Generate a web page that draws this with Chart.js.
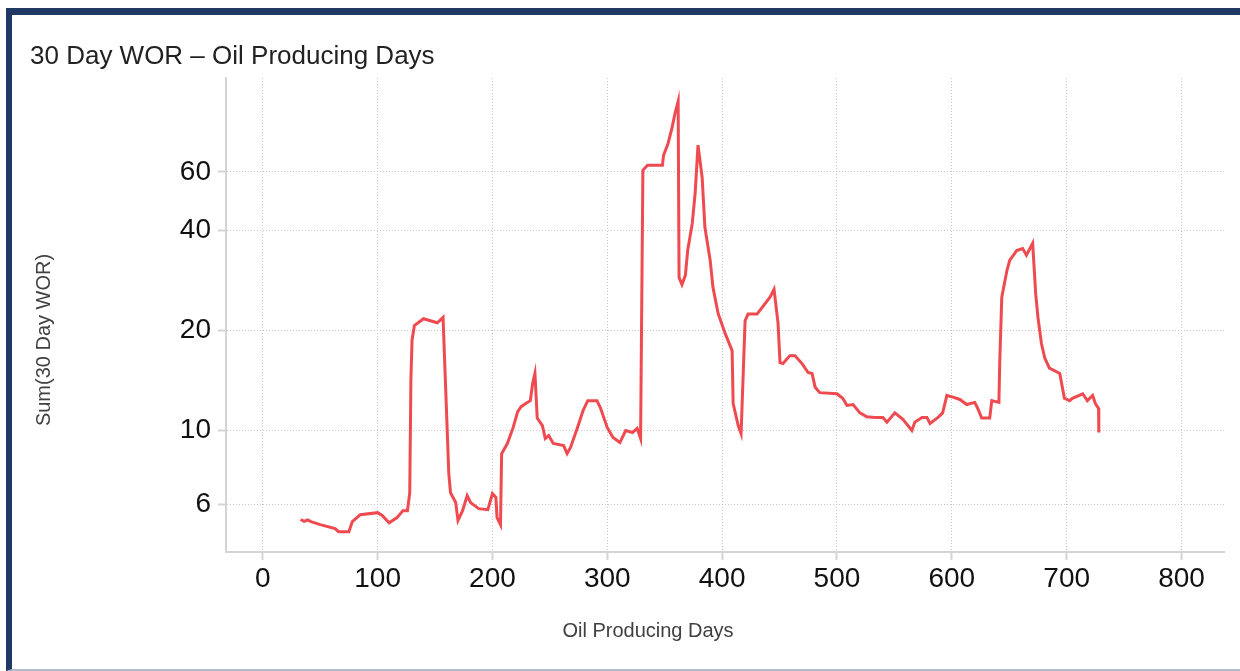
<!DOCTYPE html>
<html>
<head>
<meta charset="utf-8">
<title>30 Day WOR – Oil Producing Days</title>
<script src="https://cdn.jsdelivr.net/npm/chart.js@4/dist/chart.umd.min.js"></script>
<style>
  html, body { margin: 0; padding: 0; background: #fff; }
  .card {
    position: absolute; left: 6px; top: 8px; width: 1234px; height: 663px;
    box-sizing: border-box;
    border-top: 7px solid #1f3864;
    border-left: 6px solid #1f3864;
    border-bottom: 2px solid #b3bccf;
  }
  #wrap { position: absolute; left: 0; top: 0; width: 1240px; height: 671px; }
</style>
</head>
<body>
<div class="card"></div>
<div id="wrap"><canvas id="wor"></canvas></div>
<script>
const chartTitle = '30 Day WOR – Oil Producing Days';
const xTitle = 'Oil Producing Days';
const yTitle = 'Sum(30 Day WOR)';

// oil producing day of each reading
const days = [33, 36, 39, 42, 50, 63, 66, 75, 78, 85, 100, 104, 110, 117, 122, 126, 128, 129, 130, 132, 140, 152,
  157, 159, 162, 163.5, 168, 170, 174, 178, 181, 188, 196, 200, 203, 204, 207, 208, 213, 218, 222, 225,
  229, 233, 235, 237, 239, 243.5, 246, 249, 253, 262, 265, 268, 274, 279, 283, 291, 294, 300, 305, 311,
  316, 322, 326, 329, 331, 335, 348, 349, 353, 356.5, 359, 361.7, 362.5, 365, 368, 370, 374, 376.5, 379, 382.6,
  385, 389.6, 392, 396.5, 402.6, 408.7, 409.6, 414, 416.5, 420, 422.6, 430.4, 437.4, 441.7, 445.2, 448.7, 450.4, 453, 459, 463.5,
  469.6, 474.8, 478.3, 481, 485, 500, 505, 508.7, 514, 520, 526, 533, 540, 543.5, 550.4, 557.4, 565.2, 567.8, 574, 578.3,
  581, 588, 592, 595.7, 601, 607, 613, 620, 622.6, 626, 633, 634.8, 641, 641.7, 643.5, 648, 650.4, 656.5, 661.7, 665,
  668, 670.4, 673, 675, 678, 681, 685, 694, 698, 702.6, 705, 714, 718, 722.6, 725, 727.8, 728];

// Sum(30 Day WOR)
const wor = [5.40, 5.33, 5.38, 5.32, 5.21, 5.07, 4.96, 4.96, 5.32, 5.58, 5.66, 5.55, 5.28, 5.47, 5.74, 5.74, 6.5, 14.2, 18.7, 20.7, 21.7, 21.1,
  21.9, 14.2, 7.42, 6.5, 6.07, 5.36, 5.74, 6.37, 6.07, 5.82, 5.78, 6.46, 6.29, 5.47, 5.21, 8.52, 9.14, 10.2, 11.4, 11.8,
  12.05, 12.3, 13.85, 14.85, 10.9, 10.35, 9.46, 9.66, 9.14, 9.01, 8.52, 8.89, 10.2, 11.5, 12.3, 12.3, 11.7, 10.2, 9.53, 9.2,
  10.0, 9.86, 10.15, 9.46, 60.7, 62.8, 62.8, 67.3, 73.2, 81.8, 90.1, 97.9, 28.9, 27.5, 29.3, 34.8, 42.0, 51.8, 72.2, 57.8,
  40.9, 32.5, 27.0, 22.5, 19.6, 17.4, 12.05, 10.35, 9.79, 21.4, 22.4, 22.4, 24.1, 25.2, 26.6, 21.0, 16.0, 15.9, 16.8, 16.8,
  15.9, 14.95, 14.85, 13.5, 13.0, 12.9, 12.5, 11.9, 11.97, 11.3, 11.0, 10.95, 10.95, 10.6, 11.3, 10.8, 10.0, 10.6, 10.95, 10.95,
  10.5, 10.95, 11.3, 12.75, 12.6, 12.4, 11.97, 12.15, 11.65, 10.9, 10.9, 12.3, 12.15, 15.9, 25.2, 30.3, 32.5, 34.8, 35.3, 33.7,
  35.3, 36.6, 25.9, 21.9, 18.3, 16.5, 15.4, 14.85, 12.5, 12.3, 12.5, 12.9, 12.3, 12.75, 12.05, 11.65, 9.86];

const xTicks = [0, 100, 200, 300, 400, 500, 600, 700, 800];
const yTicks = [6, 10, 20, 40, 60];

const fontFamily = '"Liberation Sans", Arial, sans-serif';

const textPlugin = {
  id: 'texts',
  afterDraw(chart) {
    const ctx = chart.ctx;
    ctx.save();
    ctx.fillStyle = '#222';
    ctx.font = '26px ' + fontFamily;
    ctx.textAlign = 'left';
    ctx.textBaseline = 'alphabetic';
    ctx.fillText(chartTitle, 30, 64);

    ctx.fillStyle = '#404040';
    ctx.font = '20px ' + fontFamily;
    ctx.textAlign = 'center';
    ctx.fillText(xTitle, 648, 637);

    ctx.translate(50, 340);
    ctx.rotate(-Math.PI / 2);
    ctx.fillText(yTitle, 0, 0);
    ctx.restore();
  }
};

new Chart(document.getElementById('wor'), {
  type: 'line',
  data: {
    datasets: [{
      label: yTitle,
      data: days.map((d, i) => ({ x: d, y: wor[i] })),
      borderColor: '#ef4a50',
      borderWidth: 3,
      pointRadius: 0,
      tension: 0,
      fill: false
    }]
  },
  options: {
    responsive: true,
    maintainAspectRatio: false,
    animation: false,
    layout: {
      padding: { left: 0, top: 78, right: 16, bottom: 0 }
    },
    plugins: {
      legend: { display: false },
      title: { display: false },
      tooltip: { enabled: false }
    },
    scales: {
      x: {
        type: 'linear',
        min: -32,
        max: 837,
        afterBuildTicks: scale => { scale.ticks = xTicks.map(v => ({ value: v })); },
        afterFit: scale => { scale.height = 119; },
        ticks: {
          autoSkip: false,
          color: '#111',
          padding: 2,
          font: { family: fontFamily, size: 28 }
        },
        grid: {
          color: '#c8c8c8',
          lineWidth: 1,
          tickLength: 8,
          tickColor: '#d4d4d4',
          tickWidth: 2,
          tickBorderDash: []
        },
        border: {
          color: '#d4d4d4',
          width: 2,
          dash: [1, 2]
        }
      },
      y: {
        type: 'logarithmic',
        min: 4.31,
        max: 115,
        afterBuildTicks: scale => { scale.ticks = yTicks.map(v => ({ value: v })); },
        afterFit: scale => { scale.width = 226; },
        ticks: {
          autoSkip: false,
          color: '#111',
          padding: 7,
          font: { family: fontFamily, size: 28 },
          callback: v => String(v)
        },
        grid: {
          color: '#c8c8c8',
          lineWidth: 1,
          tickLength: 8,
          tickColor: '#d4d4d4',
          tickWidth: 2,
          tickBorderDash: []
        },
        border: {
          color: '#d4d4d4',
          width: 2,
          dash: [1, 2]
        }
      }
    }
  },
  plugins: [textPlugin]
});
</script>
</body>
</html>
